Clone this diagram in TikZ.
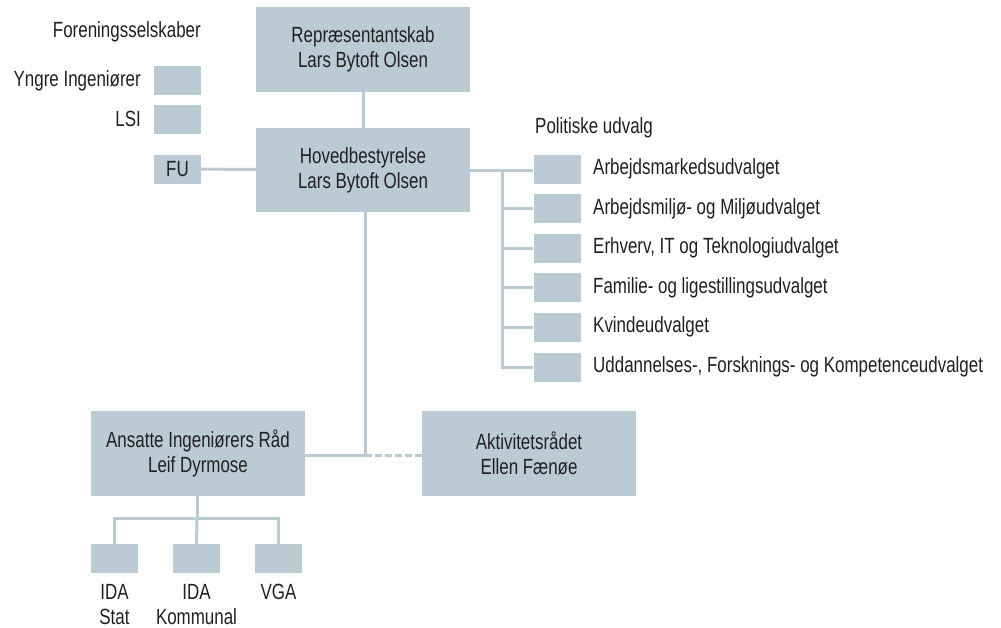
\documentclass[tikz,border=0pt]{standalone}
\usepackage{fontspec}
\setmainfont[FakeStretch=0.77]{Liberation Sans}
\definecolor{boxblue}{HTML}{BACBD4}
\definecolor{textgray}{HTML}{231F20}
\begin{document}
\begin{tikzpicture}[x=1pt,y=-1pt,
    font=\fontsize{22}{25}\selectfont, text=textgray,
    bigbox/.style={fill=boxblue,minimum width=214pt,minimum height=85pt,inner sep=0pt,align=center},
    smallbox/.style={fill=boxblue,minimum width=47pt,minimum height=29pt,inner sep=0pt},
    link/.style={draw=boxblue,line width=3pt},
    label/.style={inner sep=0pt}]
        \useasboundingbox (0,0) rectangle (1001,627);

        % Main boxes
        \node[bigbox] (rep) at (363,49.5) {Repræsentantskab\\Lars Bytoft Olsen};
        \node[bigbox,minimum height=84pt] (hov) at (363,170) {Hovedbestyrelse\\Lars Bytoft Olsen};
        \node[bigbox] (air) at (198,453.5) {Ansatte Ingeniørers Råd\\Leif Dyrmose};
        \node[bigbox] (akt) at (529,453.5) {Aktivitetsrådet\\Ellen Fænøe};

        % Foreningsselskaber
        \node[label,anchor=east] (forhead) at (201,32) {Foreningsselskaber};
        \node[smallbox] (yngre) at (177.5,80.5) {};
        \node[smallbox] (lsi) at (177.5,119) {};
        \node[smallbox] (fu) at (177.5,169) {FU};
        \node[label,anchor=east] at (141,80.5) {Yngre Ingeniører};
        \node[label,anchor=east] at (141,119) {LSI};

        % Politiske udvalg
        \node[label,anchor=west] (polhead) at (535,128) {Politiske udvalg};
        \coordinate (bus) at (502,170);
        \foreach \name/\y/\txt in {u1/169/Arbejdsmarkedsudvalget,
                                   u2/208.5/Arbejdsmiljø- og Miljøudvalget,
                                   u3/248/{Erhverv, IT og Teknologiudvalget},
                                   u4/287.5/Familie- og ligestillingsudvalget,
                                   u5/327/Kvindeudvalget,
                                   u6/367/{Uddannelses-, Forsknings- og Kompetenceudvalget}} {
            \node[smallbox] (\name) at (557,\y) {};
            \node[label,anchor=west] at (593,\y) {\txt};
        }

        % IDA Stat, IDA Kommunal, VGA
        \node[smallbox] (stat) at (114.5,558.5) {};
        \node[smallbox] (kom) at (196.5,558.5) {};
        \node[smallbox] (vga) at (278.5,558.5) {};
        \node[label,anchor=north,align=center] at (stat.south |- 0,584) {IDA\\Stat};
        \node[label,anchor=north,align=center] at (kom.south |- 0,584) {IDA\\Kommunal};
        \node[label,anchor=north,align=center] at (vga.south |- 0,584) {VGA};

        % Connectors
        \draw[link] (rep) -- (hov);
        \draw[link] (fu) -- (hov);
        \draw[link] (hov.east |- bus) -- (u1.west |- bus);
        \draw[link] (bus) |- (u6.west);
        \foreach \name in {u2,u3,u4,u5}
            \draw[link] (bus |- \name.west) -- (\name.west);
        \coordinate (knee) at (365,455);
        \draw[link] (hov.south -| knee) -- (knee) -- (air.east |- knee);
        \draw[link,dash pattern=on 7pt off 3pt] (knee) -- (akt.west |- knee);
        \coordinate (fork) at (197,518);
        \draw[link] (air.south -| fork) -- (fork);
        \draw[link] (stat.north) |- (fork) -| (vga.north);
        \draw[link] (fork) -- (kom.north);

      \end{tikzpicture}
\end{document}
